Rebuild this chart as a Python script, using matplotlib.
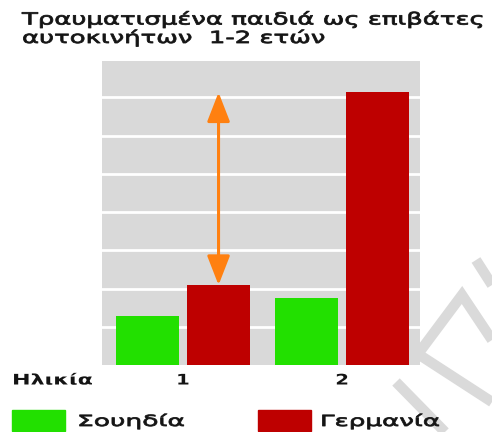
import matplotlib
matplotlib.use("Agg")
import matplotlib.pyplot as plt
from matplotlib.patches import Rectangle
from matplotlib.lines import Line2D
from matplotlib.patheffects import AbstractPathEffect
from matplotlib.transforms import Affine2D

plt.rcParams['font.family'] = ['DejaVu Sans']

ages = ["1", "2"]
sweden = [1.28, 1.75]
germany = [2.09, 7.13]
series_names = ["Σουηδία", "Γερμανία"]
title_text = "Τραυματισμένα παιδιά ως επιβάτες\nαυτοκινήτων  1-2 ετών"
xlabel_text = "Ηλικία"

green = "#22E000"
red = "#BE0000"
bg = "#D9D9D9"
orange = "#FF8010"
txtc = "#141414"

W, H = 492, 432
fig = plt.figure(figsize=(W / 100, H / 100), dpi=100)


class HStretch(AbstractPathEffect):
    """Stretch glyphs horizontally about the line's left origin or centre,
    optionally thickening them with a thin stroke."""
    def __init__(self, sx=1.0, anchor="left", lw=0.0):
        super().__init__()
        self.sx = sx
        self.anchor = anchor
        self.lw = lw

    def draw_path(self, renderer, gc, tpath, affine, rgbFace=None):
        if self.anchor == "left":
            x0 = affine.transform((0, 0))[0]
        else:
            ext = tpath.get_extents(affine)
            x0 = (ext.x0 + ext.x1) / 2
        new = affine + Affine2D().translate(-x0, 0).scale(self.sx, 1).translate(x0, 0)
        gc0 = renderer.new_gc()
        gc0.copy_properties(gc)
        if self.lw > 0 and rgbFace is not None:
            gc0.set_linewidth(self.lw)
            gc0.set_foreground(rgbFace)
        renderer.draw_path(gc0, tpath, new, rgbFace)
        gc0.restore()


def stretched(t, target_w, anchor="left", lw=0.0):
    r = fig.canvas.get_renderer()
    w = t.get_window_extent(r).width
    t.set_path_effects([HStretch(target_w / w, anchor, lw)])


ax = fig.add_axes([102 / W, 1 - 365 / H, (420 - 102) / W, (365 - 61) / H])
ax.set_facecolor(bg)
ax.set_zorder(1)

x = list(range(len(ages)))
off = 0.223
bw = 0.40
ax.bar([i - off for i in x], sweden, width=bw, color=green, zorder=3)
ax.bar([i + off for i in x], germany, width=bw, color=red, zorder=3)

ax.set_xlim(-0.51, 1.49)
ax.set_ylim(0, 7.95)
ax.set_yticks(range(1, 8))
ax.yaxis.grid(True, color="white", linewidth=2, zorder=1)
ax.set_axisbelow(True)
for s in ax.spines.values():
    s.set_visible(False)
ax.tick_params(left=False, labelleft=False, bottom=False, labelbottom=False)

# difference arrow
ax.annotate("", xy=(x[0] + off, max(germany)), xytext=(x[0] + off, germany[0]),
            arrowprops=dict(arrowstyle="<|-|>,head_length=1.8,head_width=0.7",
                            color=orange, lw=2.2, shrinkA=0, shrinkB=0), zorder=5)

# watermark strokes (decorative, behind everything)
wm = [[(476, 260), (492, 285)],
      [(492, 340), (462, 295), (418, 354), (492, 402)],
      [(396, 382), (445, 432)]]
for pts in wm:
    fig.add_artist(Line2D([p[0] / W for p in pts], [1 - p[1] / H for p in pts],
                          transform=fig.transFigure, color="#DADADA",
                          lw=7.5, solid_capstyle="butt", solid_joinstyle="miter",
                          zorder=0))

# tick labels
for i, lab in zip(x, ages):
    xd = ax.transData.transform((i, 0))[0] / fig.dpi / fig.get_figwidth()
    t = fig.text(xd, 1 - 380 / H, lab, ha="center", va="center", fontsize=10.5,
                 fontweight="bold", color=txtc, zorder=3)
    t.set_path_effects([HStretch(1.35, "center")])
t = fig.text(12 / W, 1 - 380 / H, xlabel_text, ha="left", va="center", fontsize=10.5,
             fontweight="bold", color=txtc, zorder=3)
stretched(t, 81)

# title
t = fig.text(22 / W, 1 - 10 / H, title_text, ha="left", va="top", fontsize=12,
             color=txtc, linespacing=1.0, zorder=3)
stretched(t, 461, lw=0.6)

# legend
for (px, tx, tw, col, name) in [(12, 77, 108, green, series_names[0]),
                                (258, 320, 120, red, series_names[1])]:
    fig.patches.append(Rectangle((px / W, 1 - 431 / H), 53 / W, 21 / H,
                                 transform=fig.transFigure, color=col, zorder=2))
    t = fig.text(tx / W, 1 - 421 / H, name, ha="left", va="center", fontsize=11,
                 color=txtc, zorder=3)
    stretched(t, tw, lw=0.6)

fig.savefig("out.png", dpi=100, facecolor="white")
